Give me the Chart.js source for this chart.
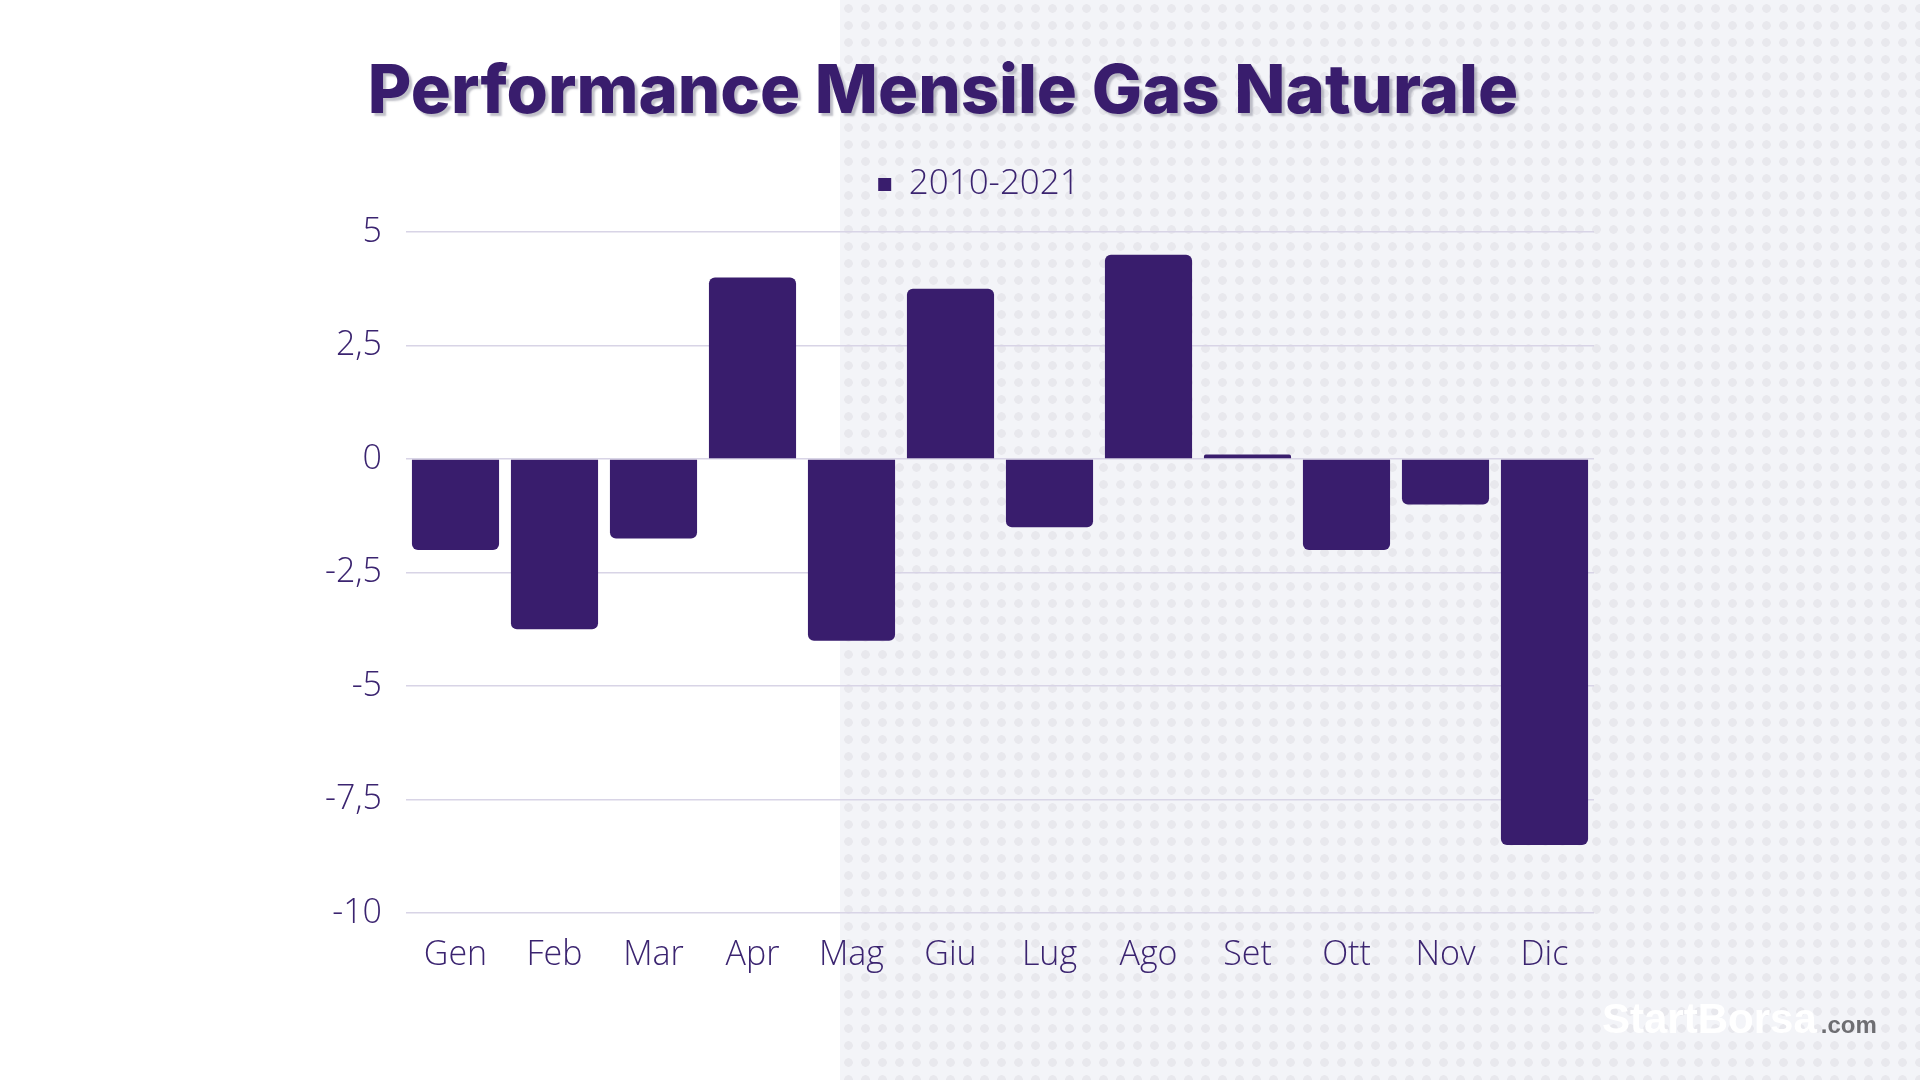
<!DOCTYPE html>
<html>
<head>
<meta charset="utf-8">
<title>Performance Mensile Gas Naturale</title>
<script src="https://cdn.jsdelivr.net/npm/chart.js@4"></script>
<style>
  html, body { margin: 0; padding: 0; }
  body { width: 1920px; height: 1080px; overflow: hidden; position: relative; background: #fff; }
  #panel {
    position: absolute; left: 840px; top: 0; width: 1080px; height: 1080px;
    background-color: #f3f4f8;
    background-image: radial-gradient(circle, #e8e8ed 4px, transparent 4.6px);
    background-size: 17px 17px;
  }
  #chart { position: absolute; left: 0; top: 0; }
</style>
</head>
<body>
<div id="panel"></div>
<canvas id="chart" width="1920" height="1080"></canvas>
<script>
// data
const months = ['Gen', 'Feb', 'Mar', 'Apr', 'Mag', 'Giu', 'Lug', 'Ago', 'Set', 'Ott', 'Nov', 'Dic'];
const perf = [-2, -3.75, -1.75, 4, -4, 3.75, -1.5, 4.5, 0.1, -2, -1, -8.5];
const yTicks = [-10, -7.5, -5, -2.5, 0, 2.5, 5];
const seriesName = '2010-2021';
const titleText = 'Performance Mensile Gas Naturale';

const purple = '#391d6d';
const textPurple = '#3b2470';

// title (with light shadow) + watermark, legend nudged right and given more room below
const decor = {
  id: 'decor',
  beforeLayout(chart) {
    const lg = chart.legend;
    if (lg && !lg._extraGap) {
      const fit = lg.fit;
      lg.fit = function () { fit.call(this); this.height += 20; };
      lg._extraGap = true;
    }
  },
  afterLayout(chart) {
    chart.legend.left += 32;
    chart.legend.right += 32;
  },
  afterDraw(chart) {
    const ctx = chart.ctx;
    ctx.save();
    ctx.textAlign = 'center';
    ctx.textBaseline = 'alphabetic';
    ctx.font = '800 70px Inter';
    let w = ctx.measureText(titleText).width;
    let size = 70 * 1151 / w;
    ctx.font = '800 ' + size.toFixed(1) + 'px Inter';
    ctx.shadowColor = 'rgba(140,140,155,0.55)';
    ctx.shadowOffsetX = 3;
    ctx.shadowOffsetY = 3;
    ctx.shadowBlur = 2;
    ctx.fillStyle = purple;
    ctx.fillText(titleText, 943, 113);
    ctx.restore();

    ctx.save();
    ctx.textAlign = 'left';
    ctx.textBaseline = 'alphabetic';
    ctx.font = 'bold 42px "Liberation Sans"';
    ctx.fillStyle = '#ffffff';
    ctx.fillText('StartBorsa', 1602, 1033);
    let sw = ctx.measureText('StartBorsa').width;
    ctx.font = 'bold 24px "Liberation Sans"';
    ctx.fillStyle = '#6e6e72';
    ctx.fillText('.com', 1602 + sw + 4, 1033);
    ctx.restore();
  }
};

new Chart(document.getElementById('chart'), {
  type: 'bar',
  data: {
    labels: months,
    datasets: [{
      label: seriesName,
      data: perf,
      backgroundColor: purple,
      borderWidth: 0,
      borderRadius: 6,
      borderSkipped: 'start',
      barPercentage: 0.88,
      categoryPercentage: 1.0
    }]
  },
  options: {
    responsive: false,
    animation: false,
    layout: { padding: { left: 300, right: 326, top: 137, bottom: 90 } },
    plugins: {
      tooltip: { enabled: false },
      legend: {
        position: 'top',
        labels: {
          color: textPurple,
          font: { family: 'Open Sans', size: 35, weight: '300' },
          boxWidth: 13,
          boxHeight: 13,
          padding: 30
        }
      }
    },
    scales: {
      x: {
        grid: { display: false },
        border: { display: false },
        ticks: {
          color: textPurple,
          font: { family: 'Open Sans', size: 34, weight: '300' },
          padding: 14
        }
      },
      y: {
        min: -10,
        max: 5,
        afterBuildTicks: (scale) => { scale.ticks = yTicks.map(v => ({ value: v })); },
        afterFit: (scale) => { scale.width = 106; },
        grid: { color: '#d8d4e6', lineWidth: 1.5, drawTicks: false },
        border: { display: false },
        ticks: {
          color: textPurple,
          font: { family: 'Open Sans', size: 34, weight: '300' },
          padding: 24,
          callback: (v) => String(v).replace('.', ',')
        }
      }
    }
  },
  plugins: [decor]
});
</script>
</body>
</html>
